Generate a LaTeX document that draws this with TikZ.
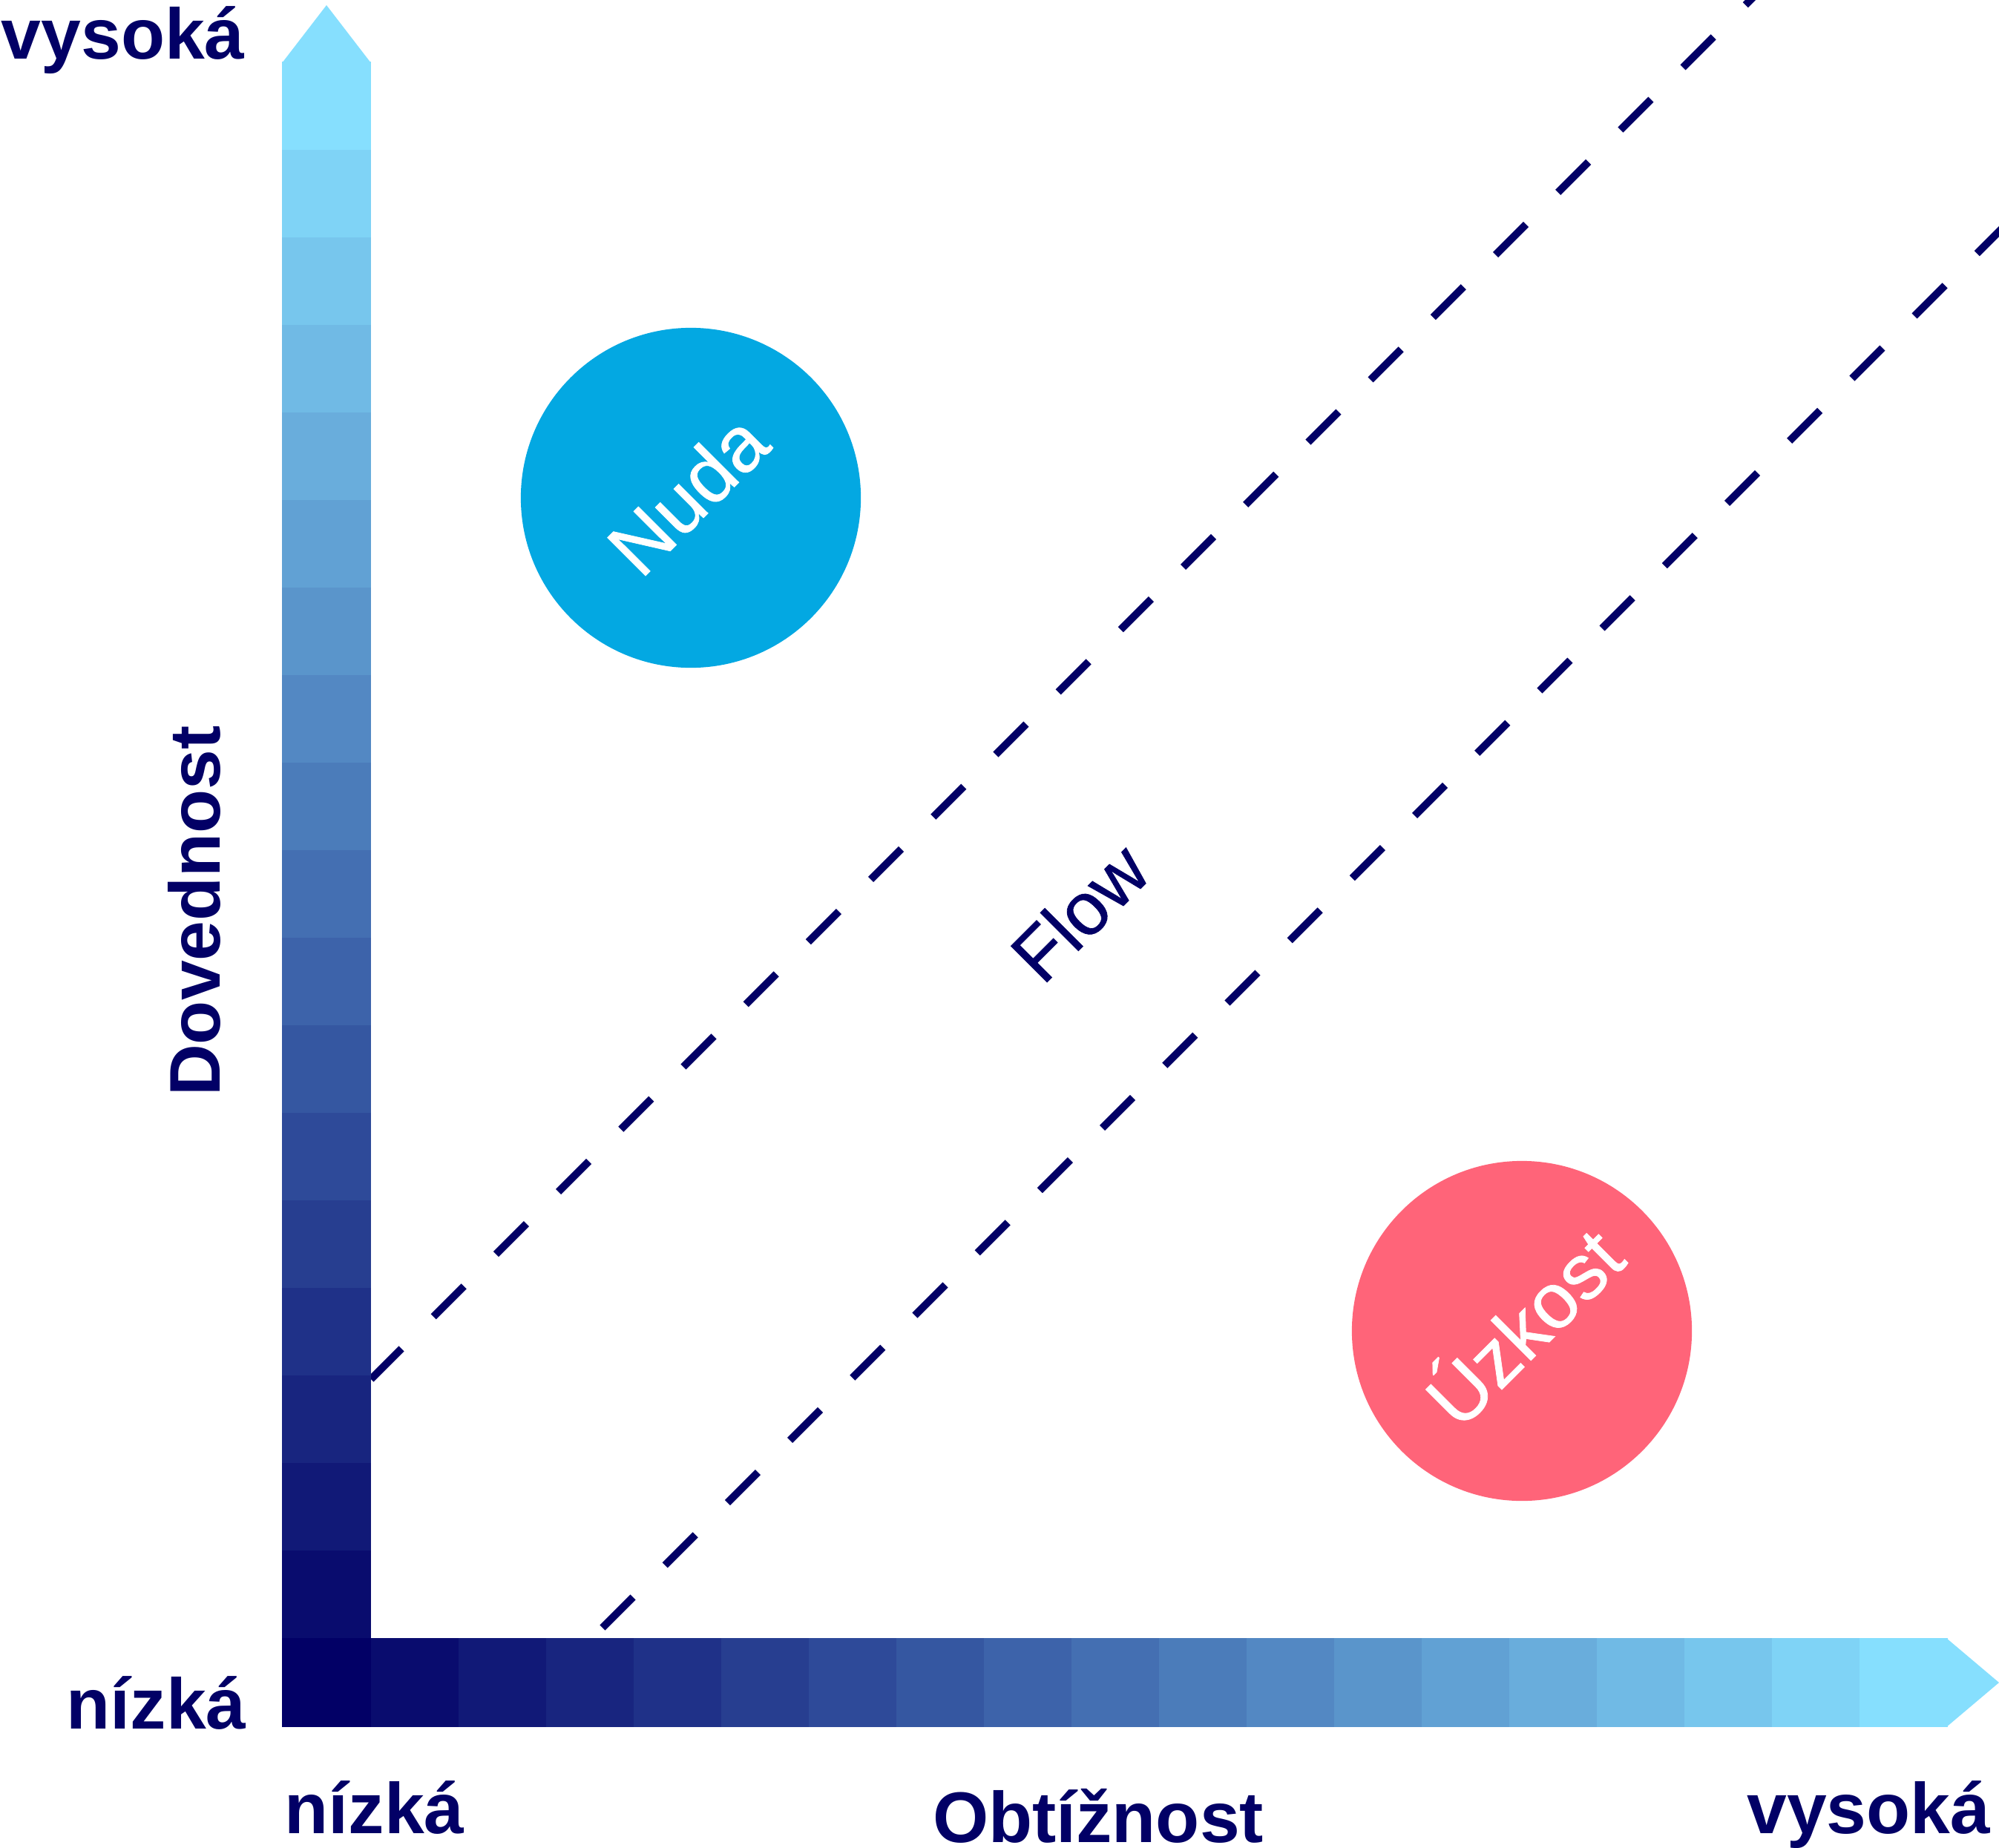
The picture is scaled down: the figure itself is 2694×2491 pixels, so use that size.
\documentclass[tikz,border=0pt]{standalone}
\usepackage{fontspec}
\setmainfont{Liberation Sans}
\newfontfamily\moodfont[FakeBold=0.7]{Liberation Sans}
\usetikzlibrary{positioning, calc}
\definecolor{inknavy}{RGB}{2,0,102}
\definecolor{axdark}{RGB}{2,0,102}
\definecolor{axlight}{RGB}{134,223,254}
\definecolor{nudablue}{RGB}{3,168,226}
\definecolor{uzkostpink}{RGB}{255,100,121}

\begin{document}
\begin{tikzpicture}[
        x=0.01cm, y=-0.01cm,
        axislabel/.style={inner sep=0pt, text=inknavy, font=\fontsize{27.5}{33}\selectfont\bfseries},
        moodlabel/.style={inner sep=0pt, text=white, anchor=base, rotate=45, font=\moodfont\fontsize{30}{36}\selectfont},
        mood/.style={circle, inner sep=0pt, minimum size=4.58cm},
        flowline/.style={inknavy, line width=0.1cm, dash pattern=on 0.58cm off 0.61cm}
    ]
        \useasboundingbox (0,0) rectangle (2694,2491);

        \coordinate (lowA) at (500,1859);
        \coordinate (lowB) at (2500,-141);
        \coordinate (highA) at (812,2194);
        \coordinate (highB) at (2812,194);
        \begin{scope}
            \clip (0,0) rectangle (2694,2491);
            \draw[flowline] (lowA) -- (lowB);
            \draw[flowline] (highA) -- (highB);
        \end{scope}

        \fill[axdark] (380,2208) rectangle (501,2328);
        \foreach \i [evaluate=\i as \mix using {100*\i/18}] in {1,...,18} {
            \fill[axlight!\mix!axdark] ({500+118*(\i-1)},2208) rectangle ({501+118*\i},2328);
            \fill[axlight!\mix!axdark] (380,{2207-118*\i}) rectangle (500,{2208-118*(\i-1)});
        }
        \fill[axlight] (380,85) -- (440,7) -- (500,85) -- cycle;
        \fill[axlight] (2623,2208) -- (2694,2268) -- (2623,2328) -- cycle;

        \node[mood, fill=nudablue] (nuda) at (931,671) {};
        \node[mood, fill=uzkostpink] (uzkost) at (2051,1794) {};
        \node[moodlabel] (nudatext) at ($(nuda.center)+(22,22)$) {Nuda};
        \node[moodlabel] (uzkosttext) at ($(uzkost.center)+(30,22)$) {Úzkost};
        \node[moodlabel, text=inknavy, font=\moodfont\fontsize{28.5}{34}\selectfont] (flow) at (1480,1255) {Flow};

        \node[axislabel, anchor=base west] (skillhigh) at (1,80) {vysoká};
        \node[axislabel, anchor=base west] (skilllow) at (89,2330) {nízká};
        \node[axislabel, anchor=base, rotate=90] (skill) at (296,1228) {Dovednost};
        \node[axislabel, anchor=base west] (difflow) at (383,2471) {nízká};
        \node[axislabel, anchor=base east] (diffhigh) at (2683,2471) {vysoká};
        \node[axislabel, anchor=base] (difficulty) at (1480,2483) {Obtížnost};
    \end{tikzpicture}
\end{document}
